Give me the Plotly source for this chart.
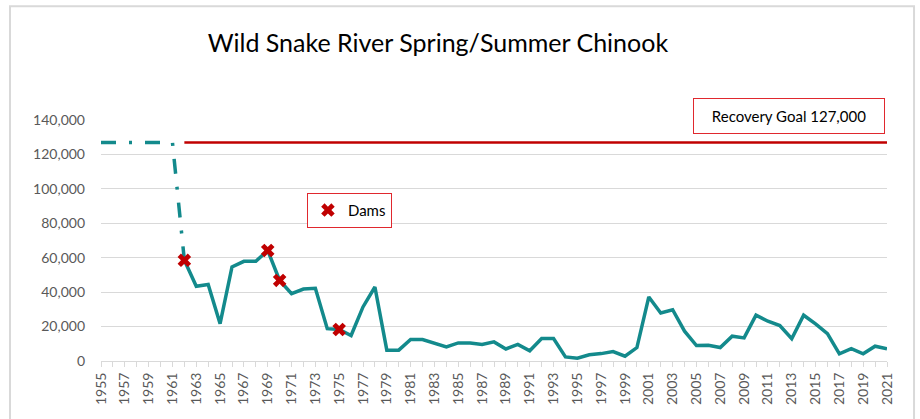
import plotly.graph_objects as go

# ---- data ----
years = list(range(1962, 2022))
returns = [58500, 43400, 44500, 21700, 54600, 57900, 57900, 64200, 46800, 39100,
           41800, 42200, 18800, 18300, 14800, 31400, 43000, 6300, 6300, 12500,
           12500, 10500, 8200, 10500, 10500, 9600, 11100, 7000, 9600, 5900,
           13000, 13000, 2400, 1600, 3600, 4300, 5500, 2800, 7800, 37200,
           27900, 29800, 17300, 9000, 9200, 7800, 14400, 13400, 26600, 23100,
           20600, 12900, 26600, 21600, 15900, 4200, 7200, 4200, 8600, 7100]

early_years = [1955, 1956, 1957, 1958, 1959, 1960, 1961, 1962]
early_values = [127000, 127000, 127000, 127000, 127000, 127000, 127000, 58500]

goal_years = [1962, 2021]
goal_values = [127000, 127000]

dam_years = [1962, 1969, 1970, 1975]
dam_values = [58500, 64200, 46800, 18300]

tick_years = list(range(1955, 2022))
tick_labels = [str(y) if (y - 1955) % 2 == 0 else "" for y in tick_years]

TEAL = "#138a8c"
RED = "#c00000"
FONT = "Lato"

fig = go.Figure()
fig.add_trace(go.Scatter(x=early_years, y=early_values, mode="lines",
                         line=dict(color=TEAL, width=3.5, dash="15px,13px,3px,13px"),
                         showlegend=False, hoverinfo="skip"))
fig.add_trace(go.Scatter(x=goal_years, y=goal_values, mode="lines",
                         line=dict(color=RED, width=2.5), showlegend=False))
fig.add_trace(go.Scatter(x=years, y=returns, mode="lines",
                         line=dict(color=TEAL, width=3.5), showlegend=False))
fig.add_trace(go.Scatter(x=dam_years, y=dam_values, mode="markers", name="Dams",
                         marker=dict(symbol="x", size=12, color=RED,
                                     line=dict(width=0)),
                         showlegend=True))

fig.update_layout(
    width=920, height=419,
    margin=dict(l=101, r=33, t=120, b=58),
    paper_bgcolor="white", plot_bgcolor="white",
    font=dict(family=FONT, color="#595959", size=14),
    title=dict(text="Wild Snake River Spring/Summer Chinook",
               x=0.476, xanchor="center", y=0.897, yanchor="middle",
               font=dict(family=FONT, size=25, color="#000000")),
    legend=dict(x=0.262, y=0.698, xanchor="left", yanchor="top",
                bordercolor="#e0282e", borderwidth=1, bgcolor="white",
                font=dict(family=FONT, size=15, color="#000000"),
                itemwidth=30),
    xaxis=dict(range=[1955, 2021], tickmode="array", tickvals=tick_years,
               ticktext=tick_labels, tickangle=-90, showgrid=False,
               showline=True, linecolor="#d9d9d9", linewidth=1,
               ticks="outside", ticklen=5, tickcolor="#d9d9d9",
               tickfont=dict(size=14, color="#595959"), zeroline=False,
               automargin=False),
    yaxis=dict(range=[0, 140000], tickvals=[0, 20000, 40000, 60000, 80000,
                                           100000, 120000, 140000],
               tickformat=",", showgrid=True, gridcolor="#d9d9d9", gridwidth=1,
               zeroline=False, showline=False, ticks="",
               ticklabelstandoff=15, automargin=False,
               tickfont=dict(size=14, color="#595959")),
    annotations=[dict(text="Recovery Goal 127,000", xref="paper", yref="paper",
                      x=0.8747, y=1.0186, xanchor="center", yanchor="middle",
                      showarrow=False, font=dict(family=FONT, size=15, color="#000000"),
                      bordercolor="#e0282e", borderwidth=1, borderpad=2,
                      bgcolor="white", width=186, height=30)],
    shapes=[dict(type="rect", xref="paper", yref="paper",
                 x0=-0.1158, x1=1.0344, y0=-0.3, y1=1.472,
                 line=dict(color="#d9d9d9", width=2), layer="below")],
)

fig.write_html("out.html", config={"displayModeBar": False},
               post_script="document.body.style.margin='0';document.body.style.overflow='hidden';")
